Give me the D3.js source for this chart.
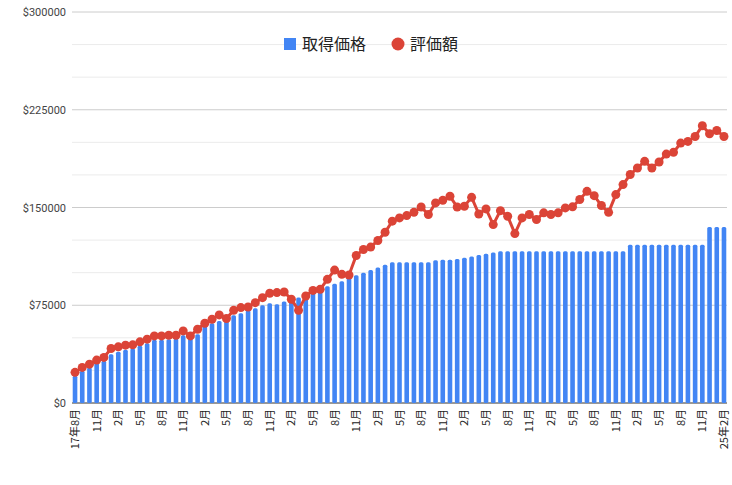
<!DOCTYPE html>
<html><head><meta charset="utf-8">
<script src="https://cdn.jsdelivr.net/npm/d3@7"></script>
<style>body{margin:0;background:#fff;font-family:"Noto Sans CJK JP",Roboto,sans-serif;}</style>
</head><body><div id="chart"></div>
<script>
// months from 2017-08 to 2025-02
let months = d3.range(91).map(i => new Date(2017, 7 + i, 1));
let cost = [21000,24700,27300,31000,32400,37500,39300,40800,41800,43900,45900,48500,48500,49000,49500,52000,51000,52800,59000,61200,
  63000,63500,67300,68900,71100,72700,75000,76500,75700,77800,79000,81000,83000,85500,87000,89500,91500,93500,96000,98000,
  100000,102000,104000,106000,108000,108000,108000,108000,108000,108000,109500,110000,110000,110500,111500,112500,113500,114500,115500,116500,
  116500,116500,116500,116500,116500,116500,116500,116500,116500,116500,116500,116500,116500,116500,116500,116500,116500,121500,121500,121500,
  121500,121500,121500,121500,121500,121500,121500,121500,135000,135000,135000];
let value = [23500,27300,29800,32900,35000,41800,43100,44400,44600,46900,49000,51500,51500,52000,52000,55300,51500,56600,61200,64300,
  67600,64800,71100,73200,73700,77000,80800,84200,84700,85200,79600,71100,82100,86400,87200,94900,102000,98700,98200,113200,
  117800,119600,124700,131000,139500,142000,143800,146300,150400,144600,153500,155500,158600,150400,151000,157800,145000,148900,136900,147600,
  143300,130000,142000,144600,140800,145900,144600,145900,149700,150500,156100,162400,159100,151500,146300,159900,167600,175300,180300,185400,
  180300,184900,191000,192300,199400,200700,204500,212700,206600,209100,204500];
let yTicks = [0,75000,150000,225000,300000];
let series = ["取得価格","評価額"];
let colors = ["#4285f4","#db4437"];

let width = 732, height = 485;
let svg = d3.select("#chart").append("svg").attr("width", width).attr("height", height);
let x = d3.scaleBand().domain(d3.range(months.length)).range([72, 727]).paddingInner(0.36).paddingOuter(0.1);
let y = d3.scaleLinear().domain([0, 300000]).range([403, 12]);

// gridlines
svg.selectAll("line.minor").data(d3.range(0, 300001, 25000).filter(v => v % 75000 !== 0)).enter()
  .append("line").attr("x1", 72).attr("x2", 727).attr("y1", d => y(d)).attr("y2", d => y(d))
  .attr("stroke", "#ebebeb").attr("stroke-width", 1);
svg.selectAll("line.major").data(yTicks).enter()
  .append("line").attr("x1", 72).attr("x2", 727).attr("y1", d => y(d)).attr("y2", d => y(d))
  .attr("stroke", d => d === 0 ? "#333" : "#ccc").attr("stroke-width", 1);
svg.selectAll("text.ytick").data(yTicks).enter().append("text")
  .attr("x", 66).attr("y", d => y(d) + 4).attr("text-anchor", "end")
  .style("font-size", "11px").style("fill", "#444").style("font-family", "Roboto,sans-serif")
  .text(d => "$" + d);

// bars
svg.selectAll("rect.bar").data(cost).enter().append("rect")
  .attr("x", (d, i) => x(i)).attr("width", x.bandwidth())
  .attr("y", d => y(d)).attr("height", d => y(0) - y(d))
  .attr("rx", 1.5).attr("fill", colors[0]);

// line
let cx = i => x(i) + x.bandwidth() / 2;
svg.append("path").datum(value)
  .attr("d", d3.line().x((d, i) => cx(i)).y(d => y(d)))
  .attr("fill", "none").attr("stroke", colors[1]).attr("stroke-width", 3);
svg.selectAll("circle.pt").data(value).enter().append("circle")
  .attr("cx", (d, i) => cx(i)).attr("cy", d => y(d)).attr("r", 4.5).attr("fill", colors[1]);

// x labels
let lbl = d3.range(0, months.length, 3);
svg.selectAll("text.xl").data(lbl).enter().append("text")
  .attr("transform", i => `translate(${cx(i) + 4},409) rotate(-90)`)
  .attr("text-anchor", "end").style("font-size", "11px").style("fill", "#222")
  .text(i => {
    let m = months[i];
    if (i === 0 || i === months.length - 1) return String(m.getFullYear()).slice(2) + "年" + (m.getMonth() + 1) + "月";
    return (m.getMonth() + 1) + "月";
  });

// legend
let lg = svg.append("g");
lg.append("rect").attr("x", 284).attr("y", 38).attr("width", 12).attr("height", 12).attr("fill", colors[0]);
lg.append("text").attr("x", 302).attr("y", 50).style("font-size", "16px").style("fill", "#222").text(series[0]);
lg.append("circle").attr("cx", 398).attr("cy", 44).attr("r", 6.5).attr("fill", colors[1]);
lg.append("text").attr("x", 410).attr("y", 50).style("font-size", "16px").style("fill", "#222").text(series[1]);
</script></body></html>
